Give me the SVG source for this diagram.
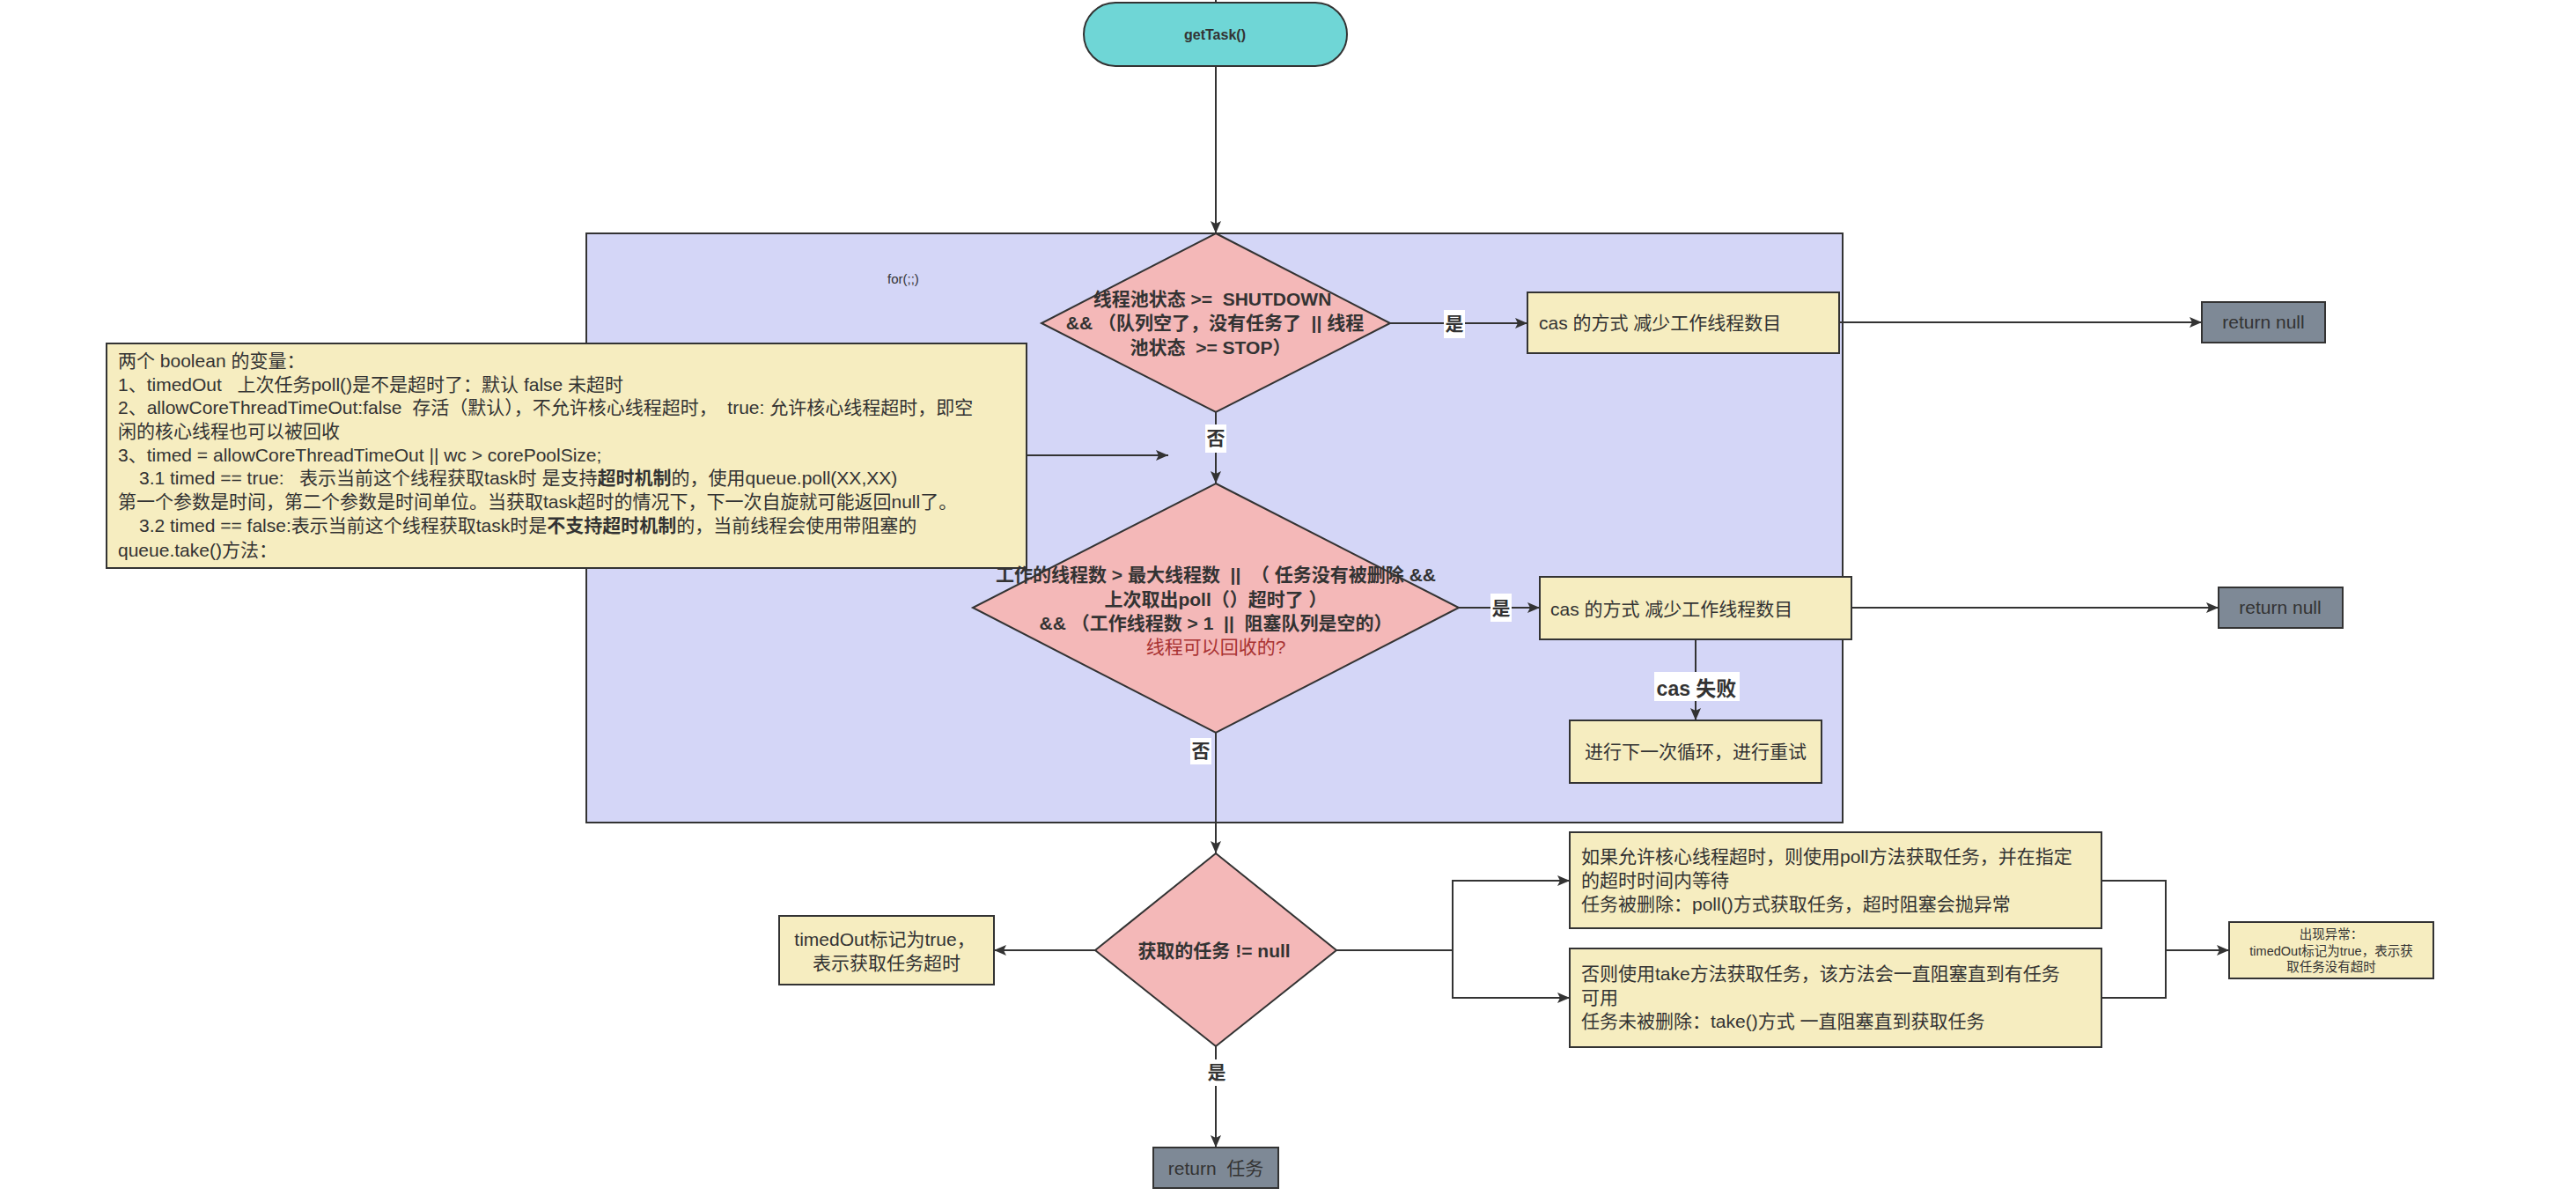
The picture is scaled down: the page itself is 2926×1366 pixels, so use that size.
<svg xmlns="http://www.w3.org/2000/svg" width="2926" height="1366" viewBox="0 0 2926 1366">
<defs>
<style>
text{font-family:"Liberation Sans","Noto Sans CJK SC",sans-serif;fill:#333;font-size:21px}
.b{font-weight:bold}
.m{text-anchor:middle}
.ln{fill:none;stroke:#333;stroke-width:2}
.ar{fill:none;stroke:#333;stroke-width:2;marker-end:url(#ah)}
.pink{fill:#f4b8b8;stroke:#333;stroke-width:2}
.yel{fill:#f6edc0;stroke:#333;stroke-width:2}
.gray{fill:#7e8996;stroke:#333;stroke-width:2}
.lbg{fill:#fff}
</style>
<marker id="ah" markerUnits="userSpaceOnUse" markerWidth="16" markerHeight="14" refX="15" refY="7" orient="auto">
<path d="M1,1 L15,7 L1,13 L4,7 z" fill="#333"/>
</marker>
</defs>
<rect width="2926" height="1366" fill="#fff"/>

<g id="loop">
<rect x="666" y="265" width="1427" height="669" fill="#d4d6f7" stroke="#333" stroke-width="2"/>
<text x="1008" y="322" style="font-size:15px">for(;;)</text>
</g>

<g id="connectors">
<line class="ln" x1="1381" y1="0" x2="1381" y2="3"/>
<line class="ar" x1="1381" y1="75" x2="1381" y2="265"/>
<line class="ar" x1="1579" y1="367" x2="1735" y2="367"/>
<rect class="lbg" x="1640" y="352" width="24" height="32"/>
<text class="b m" x="1652" y="375">是</text>
<line class="ar" x1="2089" y1="366" x2="2501" y2="366"/>
<line class="ar" x1="1381" y1="468" x2="1381" y2="549"/>
<rect class="lbg" x="1369" y="482" width="24" height="32"/>
<text class="b m" x="1381" y="505">否</text>
<line class="ar" x1="1166" y1="517" x2="1327" y2="517"/>
<line class="ar" x1="1657" y1="690" x2="1749" y2="690"/>
<rect class="lbg" x="1693" y="674" width="24" height="32"/>
<text class="b m" x="1705" y="698">是</text>
<line class="ar" x1="2103" y1="690" x2="2520" y2="690"/>
<line class="ar" x1="1926" y1="726" x2="1926" y2="818"/>
<rect class="lbg" x="1879" y="763" width="97" height="33"/>
<text class="b m" x="1927" y="790" style="font-size:23px">cas 失败</text>
<line class="ar" x1="1381" y1="832" x2="1381" y2="969"/>
<rect class="lbg" x="1352" y="838" width="24" height="30"/>
<text class="b m" x="1364" y="860">否</text>
<line class="ar" x1="1244" y1="1079" x2="1129" y2="1079"/>
<polyline class="ar" points="1518,1079 1650,1079 1650,1000 1783,1000"/>
<polyline class="ar" points="1650,1079 1650,1133 1783,1133"/>
<polyline class="ln" points="2387,1000 2460,1000 2460,1133 2387,1133"/>
<line class="ar" x1="2460" y1="1079" x2="2532" y2="1079"/>
<line class="ar" x1="1381" y1="1188" x2="1381" y2="1303"/>
<rect class="lbg" x="1370" y="1203" width="24" height="30"/>
<text class="b m" x="1382" y="1225">是</text>
</g>

<g id="getTask">
<rect x="1231" y="3" width="299" height="72" rx="36" ry="36" fill="#6fd6d6" stroke="#333" stroke-width="2"/>
<text class="b m" x="1380" y="45" style="font-size:16px">getTask()</text>
</g>

<g id="note">
<rect class="yel" x="121" y="390" width="1045" height="255"/>
<text x="134" y="417" xml:space="preserve">两个 boolean 的变量：</text>
<text x="134" y="444" xml:space="preserve">1、timedOut   上次任务poll()是不是超时了：默认 false 未超时</text>
<text x="134" y="470" xml:space="preserve">2、allowCoreThreadTimeOut:false  存活（默认），不允许核心线程超时，  true: 允许核心线程超时，即空</text>
<text x="134" y="497" xml:space="preserve">闲的核心线程也可以被回收</text>
<text x="134" y="524" xml:space="preserve">3、timed = allowCoreThreadTimeOut || wc &gt; corePoolSize;</text>
<text x="158" y="550" xml:space="preserve">3.1 timed == true:   表示当前这个线程获取task时 是支持<tspan class="b">超时机制</tspan>的，使用queue.poll(XX,XX)</text>
<text x="134" y="577" xml:space="preserve">第一个参数是时间，第二个参数是时间单位。当获取task超时的情况下，下一次自旋就可能返回null了。</text>
<text x="158" y="604" xml:space="preserve">3.2 timed == false:表示当前这个线程获取task时是<tspan class="b">不支持超时机制</tspan>的，当前线程会使用带阻塞的</text>
<text x="134" y="632" xml:space="preserve">queue.take()方法：</text>
</g>

<g id="check-shutdown">
<polygon class="pink" points="1381,265 1579,367 1381,468 1183,367"/>
<text class="b m" x="1377" y="347" xml:space="preserve">线程池状态 &gt;=  SHUTDOWN</text>
<text class="b m" x="1380" y="374" xml:space="preserve">&amp;&amp; （队列空了，没有任务了  || 线程</text>
<text class="b m" x="1375" y="402" xml:space="preserve">池状态  &gt;= STOP）</text>
</g>

<g id="cas1">
<rect class="yel" x="1735" y="332" width="354" height="69"/>
<text x="1748" y="374">cas 的方式 减少工作线程数目</text>
</g>

<g id="return-null-1">
<rect class="gray" x="2501" y="343" width="140" height="46"/>
<text class="m" x="2571" y="373">return null</text>
</g>

<g id="check-recycle">
<polygon class="pink" points="1381,549 1657,690 1381,832 1105,690"/>
<text class="b m" x="1381" y="660" xml:space="preserve">工作的线程数 &gt; 最大线程数  ||  （ 任务没有被删除 &amp;&amp;</text>
<text class="b m" x="1381" y="688" xml:space="preserve">上次取出poll（）超时了 ）</text>
<text class="b m" x="1381" y="715" xml:space="preserve">&amp;&amp; （工作线程数 &gt; 1  ||  阻塞队列是空的）</text>
<text class="m" x="1381" y="742" style="fill:#a83232">线程可以回收的?</text>
</g>

<g id="cas2">
<rect class="yel" x="1749" y="655" width="354" height="71"/>
<text x="1761" y="699">cas 的方式 减少工作线程数目</text>
</g>

<g id="return-null-2">
<rect class="gray" x="2520" y="667" width="141" height="46"/>
<text class="m" x="2590" y="697">return null</text>
</g>

<g id="retry">
<rect class="yel" x="1783" y="818" width="286" height="71"/>
<text class="m" x="1926" y="861">进行下一次循环，进行重试</text>
</g>

<g id="check-task">
<polygon class="pink" points="1381,969 1518,1079 1381,1188 1244,1079"/>
<text class="b m" x="1379" y="1087">获取的任务 != null</text>
</g>

<g id="timed-out">
<rect class="yel" x="885" y="1040" width="244" height="78"/>
<text class="m" x="1005" y="1074">timedOut标记为true，</text>
<text class="m" x="1007" y="1101">表示获取任务超时</text>
</g>

<g id="poll-box">
<rect class="yel" x="1783" y="945" width="604" height="109"/>
<text x="1796" y="980">如果允许核心线程超时，则使用poll方法获取任务，并在指定</text>
<text x="1796" y="1007">的超时时间内等待</text>
<text x="1796" y="1034">任务被删除：poll()方式获取任务，超时阻塞会抛异常</text>
</g>

<g id="take-box">
<rect class="yel" x="1783" y="1077" width="604" height="112"/>
<text x="1796" y="1113">否则使用take方法获取任务，该方法会一直阻塞直到有任务</text>
<text x="1796" y="1140">可用</text>
<text x="1796" y="1167">任务未被删除：take()方式 一直阻塞直到获取任务</text>
</g>

<g id="exception">
<rect class="yel" x="2532" y="1047" width="232" height="64"/>
<text class="m" x="2648" y="1066" style="font-size:14.5px">出现异常：</text>
<text class="m" x="2648" y="1085" style="font-size:14.5px">timedOut标记为true，表示获</text>
<text class="m" x="2648" y="1103" style="font-size:14.5px">取任务没有超时</text>
</g>

<g id="return-task">
<rect class="gray" x="1310" y="1303" width="142" height="46"/>
<text class="m" x="1381" y="1334" xml:space="preserve">return  任务</text>
</g>
</svg>
